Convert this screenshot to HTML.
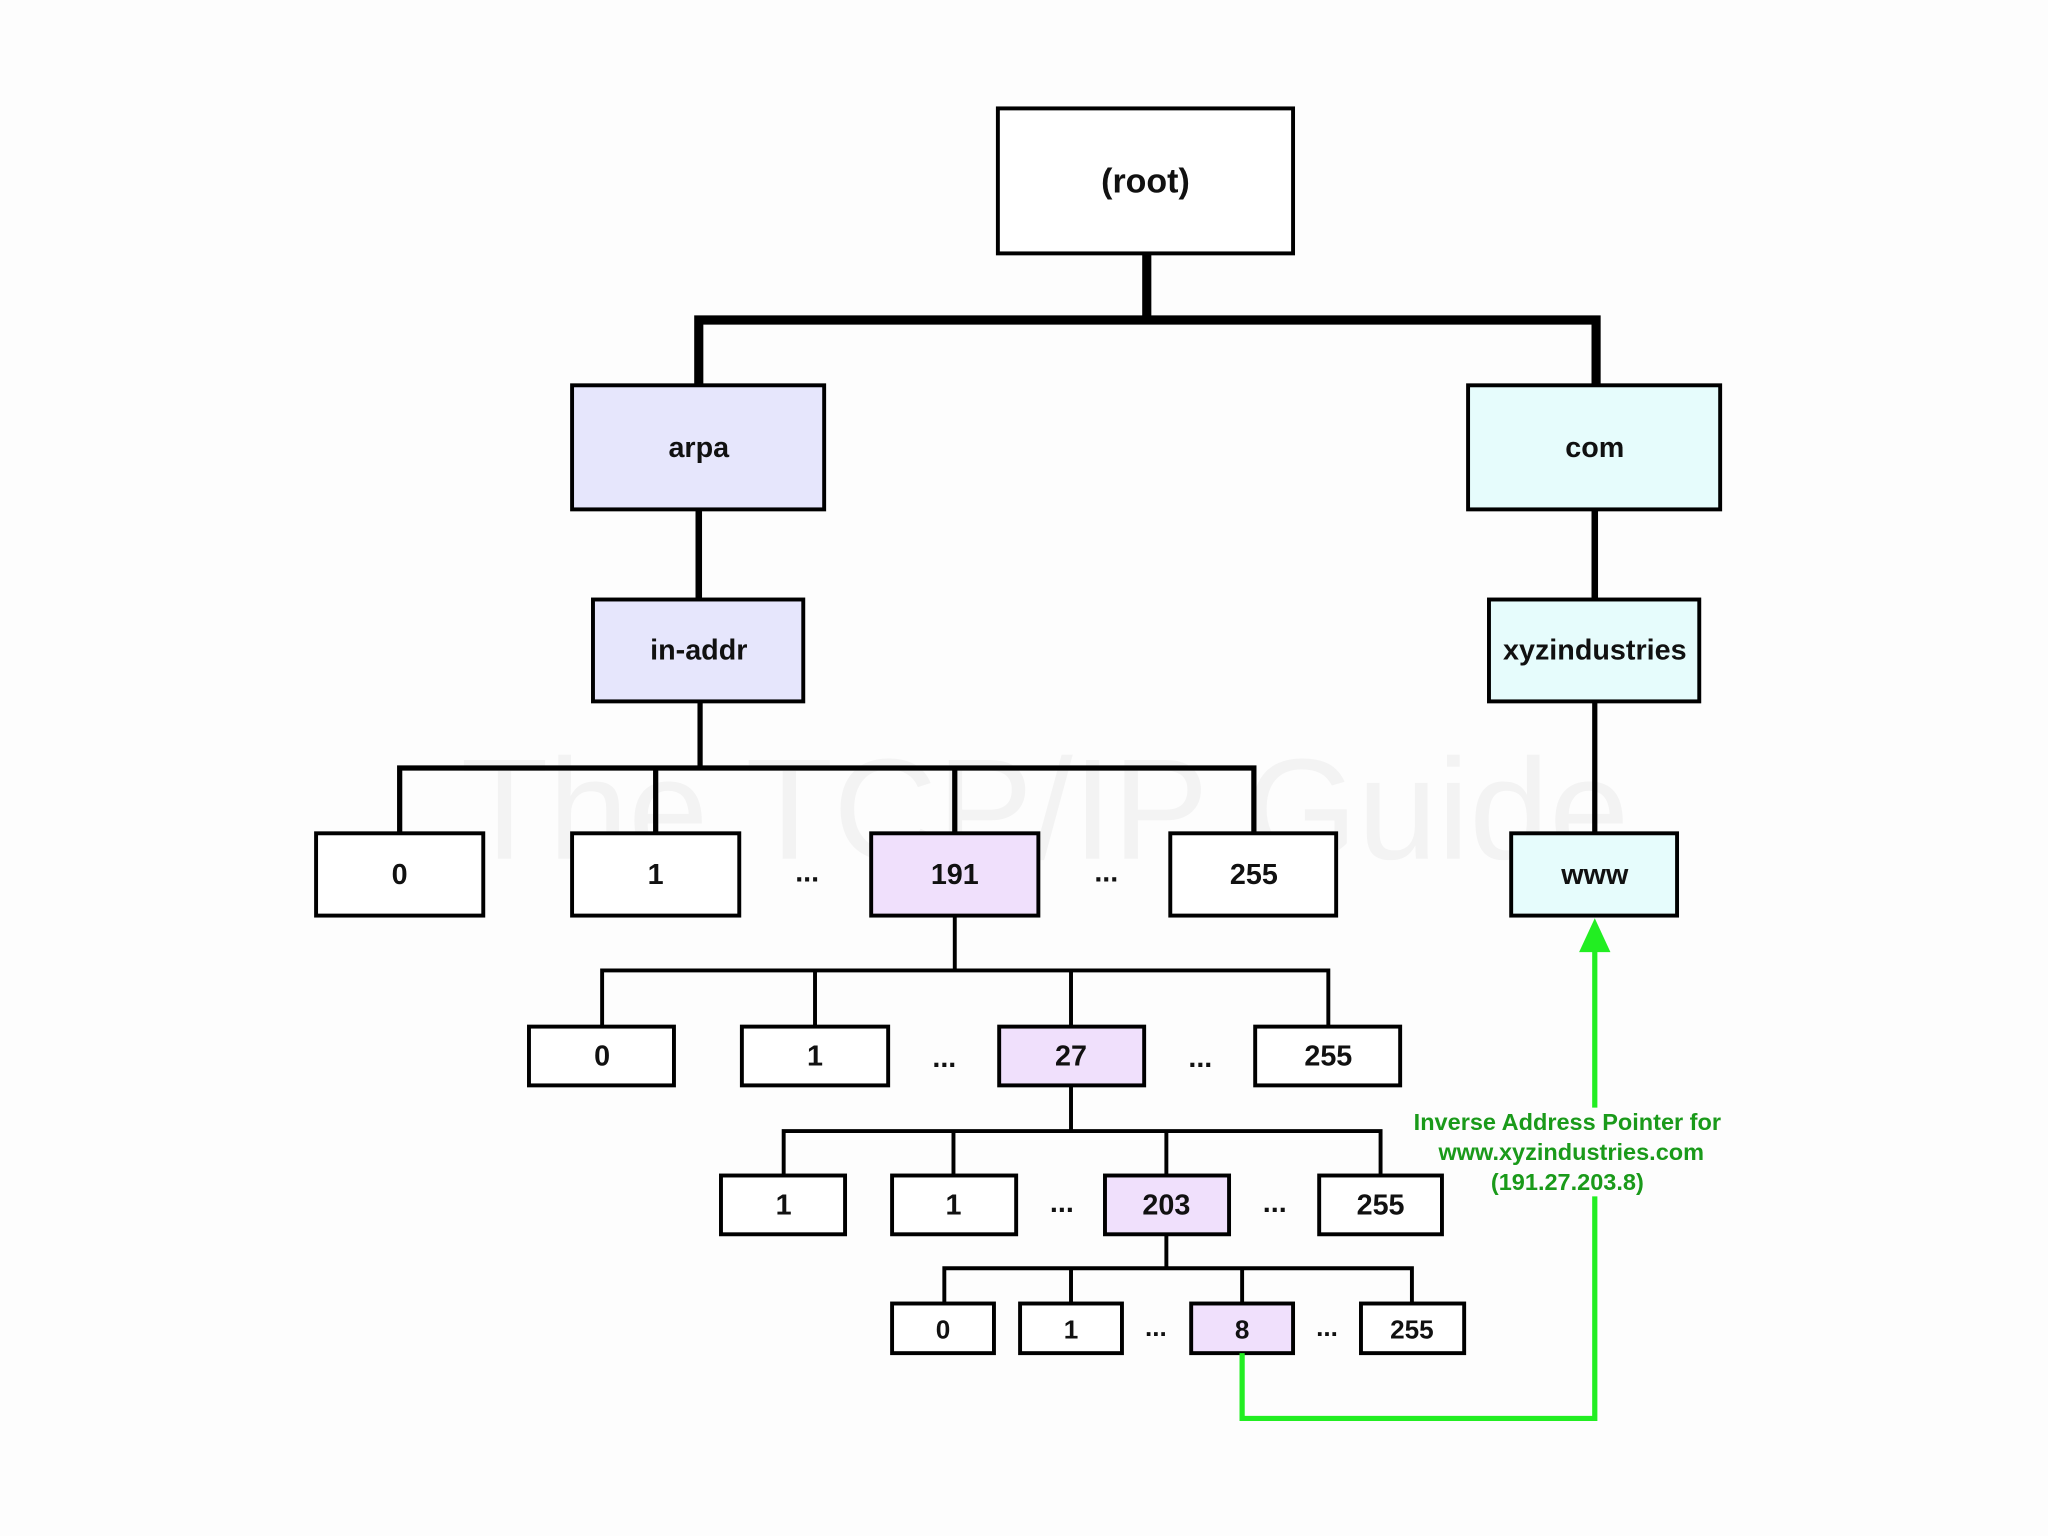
<!DOCTYPE html>
<html><head><meta charset="utf-8"><style>
html,body{margin:0;padding:0;background:#fff;}
svg{display:block;}
text{font-family:"Liberation Sans",Arial,sans-serif;font-weight:bold;text-anchor:middle;dominant-baseline:central;fill:#111;}
text.g{fill:#1a9a1a;font-size:18px;}
</style></head><body>
<svg width="2048" height="1536" viewBox="0 0 1568 1176" xmlns="http://www.w3.org/2000/svg">
<rect width="1568" height="1176" fill="#fdfdfd"/>
<text x="800" y="620" style="font-size:110px;fill:#f3f3f3;font-weight:normal">The TCP/IP Guide</text>
<g stroke="#000" fill="none" stroke-linecap="square">
<path d="M878 194V245M535 245H1222M535 245V296M1222 245V296" stroke-width="7"/>
<path d="M535 390V459M1221 390V459" stroke-width="5"/>
<path d="M536 537V588M306 588H960M306 588V638M502 588V638M731 588V638M960 588V638M1221 537V638" stroke-width="4"/>
<path d="M731 701V743M461 743H1017M461 743V786M624 743V786M820 743V786M1017 743V786" stroke-width="3"/>
<path d="M820 831V866M600 866H1057M600 866V900M730 866V900M893 866V900M1057 866V900" stroke-width="3"/>
<path d="M893 945V971M723 971H1081M723 971V998M820 971V998M951 971V998M1081 971V998" stroke-width="3"/>
</g>
<g stroke="#000" stroke-width="3">
<rect x="764" y="83" width="226" height="111" fill="#fff"/>
<rect x="438" y="295" width="193" height="95" fill="#e6e6fc"/>
<rect x="1124" y="295" width="193" height="95" fill="#e6fcfc"/>
<rect x="454" y="459" width="161" height="78" fill="#e6e6fc"/>
<rect x="1140" y="459" width="161" height="78" fill="#e6fcfc"/>
<rect x="242" y="638" width="128" height="63" fill="#fff"/>
<rect x="438" y="638" width="128" height="63" fill="#fff"/>
<rect x="667" y="638" width="128" height="63" fill="#f0e0fc"/>
<rect x="896" y="638" width="127" height="63" fill="#fff"/>
<rect x="1157" y="638" width="127" height="63" fill="#e6fcfc"/>
<rect x="405" y="786" width="111" height="45" fill="#fff"/>
<rect x="568" y="786" width="112" height="45" fill="#fff"/>
<rect x="765" y="786" width="111" height="45" fill="#f0e0fc"/>
<rect x="961" y="786" width="111" height="45" fill="#fff"/>
<rect x="552" y="900" width="95" height="45" fill="#fff"/>
<rect x="683" y="900" width="95" height="45" fill="#fff"/>
<rect x="846" y="900" width="95" height="45" fill="#f0e0fc"/>
<rect x="1010" y="900" width="94" height="45" fill="#fff"/>
<rect x="683" y="998" width="78" height="38" fill="#fff"/>
<rect x="781" y="998" width="78" height="38" fill="#fff"/>
<rect x="912" y="998" width="78" height="38" fill="#f0e0fc"/>
<rect x="1042" y="998" width="79" height="38" fill="#fff"/>
</g>
<g style="font-size:26px"><text x="877" y="139">(root)</text></g>
<g style="font-size:22px">
<text x="535" y="343">arpa</text><text x="1221" y="343">com</text>
<text x="535" y="498">in-addr</text><text x="1221" y="498">xyzindustries</text>
<text x="306" y="670">0</text><text x="502" y="670">1</text><text x="731" y="670">191</text><text x="960" y="670">255</text><text x="1221" y="670">www</text>
<text x="618" y="668">...</text><text x="847" y="668">...</text>
<text x="461" y="809">0</text><text x="624" y="809">1</text><text x="820" y="809">27</text><text x="1017" y="809">255</text>
<text x="723" y="810">...</text><text x="919" y="810">...</text>
<text x="600" y="923">1</text><text x="730" y="923">1</text><text x="893" y="923">203</text><text x="1057" y="923">255</text>
<text x="813" y="921">...</text><text x="976" y="921">...</text>
</g>
<g style="font-size:20px">
<text x="722" y="1018">0</text><text x="820" y="1018">1</text><text x="951" y="1018">8</text><text x="1081" y="1018">255</text>
<text x="885" y="1016">...</text><text x="1016" y="1016">...</text>
</g>
<g stroke="#22ee22" stroke-width="4" fill="none">
<path d="M951 1036V1086H1221V916"/>
<path d="M1221 848V726"/>
</g>
<polygon points="1221,703 1209,729 1233,729" fill="#22ee22"/>
<text class="g" x="1200" y="859">Inverse Address Pointer for</text>
<text class="g" x="1203" y="882">www.xyzindustries.com</text>
<text class="g" x="1200" y="905">(191.27.203.8)</text>
</svg>
</body></html>
